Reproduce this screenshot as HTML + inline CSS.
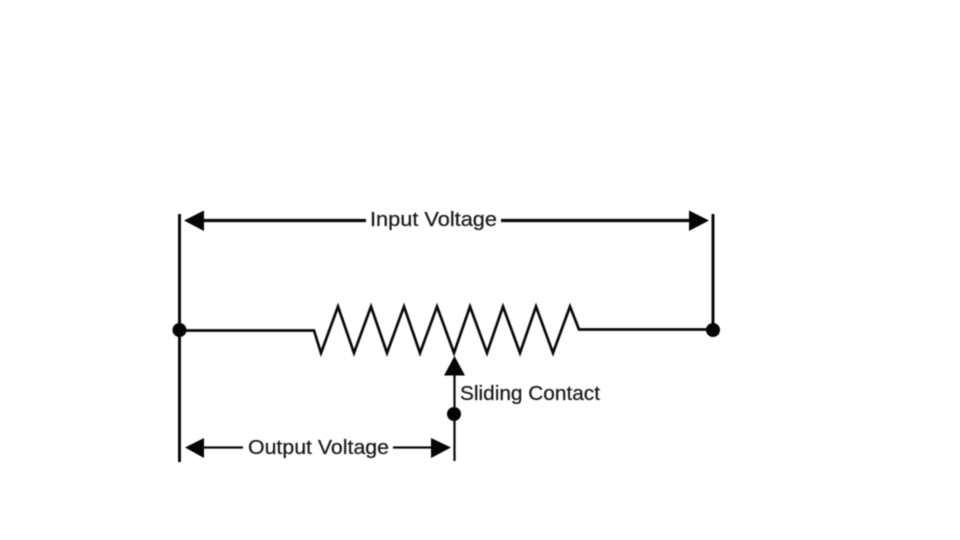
<!DOCTYPE html>
<html>
<head>
<meta charset="utf-8">
<style>
html,body{margin:0;padding:0;background:#fff;width:960px;height:540px;overflow:hidden}
svg{display:block;filter:blur(.4px)}
text{font-family:"Liberation Sans","DejaVu Sans",sans-serif;font-size:20px;fill:#1a1a1a;stroke:#1a1a1a;stroke-width:.25px}
</style>
</head>
<body>
<svg width="960" height="540" viewBox="0 0 960 540" xmlns="http://www.w3.org/2000/svg">
<rect width="960" height="540" fill="#fff"/>
<g fill="none" stroke="#0a0a0a">
<path d="M179.500 214V462" stroke-width="3"/>
<path d="M713 214V330" stroke-width="3"/>
<path d="M200 220.500H366M501 220.500H695" stroke-width="3.200"/>
<path d="M180 330.500H314L321 353L338 306.500L354 353L371 306.500L387 353L404 306.500L420 353L437 306.500L454 353L470 306.500L487 353L503 306.500L520 353L536 306.500L553 353L570 306.500L579 329.500H713" stroke-width="2.700" stroke-linejoin="miter"/>
<path d="M454.500 372V461" stroke-width="2.200"/>
<path d="M200 447.500H243M393 447.500H435" stroke-width="2.200"/>
</g>
<g fill="#050505">
<polygon points="184,220.500 204,210.500 204,231"/>
<polygon points="709,220.500 689,210.500 689,231"/>
<polygon points="185,447.500 204,438 204,458"/>
<polygon points="451,447.500 431,438 431,458"/>
<polygon points="454.500,356 444,375.500 465,375.500"/>
<circle cx="179.500" cy="330" r="7"/>
<circle cx="713" cy="330" r="7"/>
<circle cx="454" cy="414" r="7"/>
</g>
<text x="370" y="226" textLength="127" lengthAdjust="spacingAndGlyphs">Input Voltage</text>
<text x="460" y="400" textLength="140" lengthAdjust="spacingAndGlyphs">Sliding Contact</text>
<text x="248" y="454" textLength="141" lengthAdjust="spacingAndGlyphs">Output Voltage</text>
</svg>
</body>
</html>
